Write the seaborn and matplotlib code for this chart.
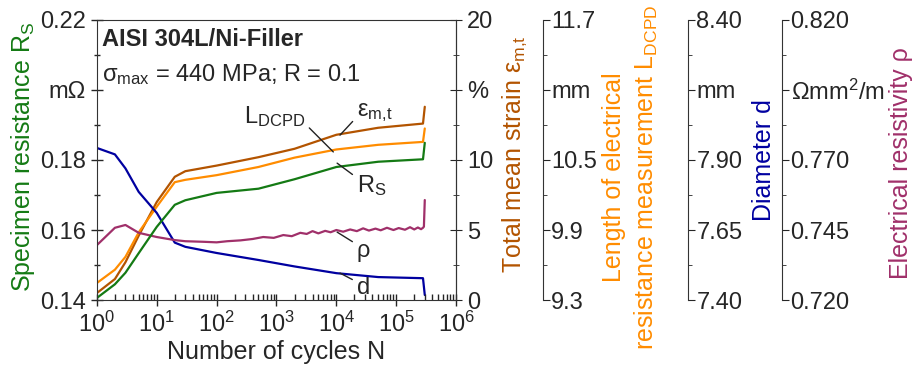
import matplotlib
matplotlib.use("Agg")
import matplotlib.pyplot as plt
import matplotlib.ticker as mticker
import seaborn as sns
import pandas as pd
import numpy as np

sns.set_style("ticks")
plt.rcParams['font.family'] = ['Liberation Sans', 'DejaVu Sans']
plt.rcParams['mathtext.default'] = 'regular'
plt.rcParams['font.size'] = 17

# cycles (shared by the smooth curves)
cycles = [1, 2, 3, 5, 10, 20, 30, 100, 500, 2000, 1e4, 5e4, 2.8e5, 3.0e5]
rs = [0.1406, 0.1445, 0.1478, 0.1534, 0.1609, 0.1672, 0.1685, 0.1706, 0.1718,
      0.1745, 0.1780, 0.1795, 0.1802, 0.1849]
strain = [0.5, 1.5, 2.7, 4.6, 7.0, 8.8, 9.2, 9.6, 10.2, 10.8, 11.8, 12.3, 12.6, 13.8]
l_dcpd = [9.446, 9.56, 9.67, 9.88, 10.10, 10.31, 10.33, 10.37, 10.44, 10.52,
          10.59, 10.63, 10.655, 10.77]
diam = [7.943, 7.92, 7.87, 7.786, 7.711, 7.605, 7.59, 7.568, 7.543, 7.52,
        7.496, 7.482, 7.478, 7.418]

# resistivity is noisy, so it gets its own hand-read points
rho_cycles = [1, 2, 3, 5, 10, 20, 30, 60, 100, 150, 250, 400, 600, 900, 1300,
              1800, 2500, 3200, 4000, 5000, 6500, 8000, 1e4, 1.3e4, 1.7e4, 2.2e4,
              2.8e4, 3.5e4, 4.5e4, 5.5e4, 7e4, 9e4, 1.1e5, 1.4e5, 1.7e5, 2e5,
              2.3e5, 2.6e5, 2.8e5, 2.9e5, 3.0e5]
rho = [0.7396, 0.7458, 0.7468, 0.7440, 0.7425, 0.7414, 0.7410, 0.7408, 0.7406,
       0.7410, 0.7413, 0.7418, 0.7425, 0.7422, 0.7432, 0.7428, 0.7440, 0.7436,
       0.7446, 0.7438, 0.7447, 0.7442, 0.7450, 0.7444, 0.7452, 0.7446, 0.7456,
       0.7448, 0.7455, 0.7449, 0.7458, 0.7450, 0.7457, 0.7451, 0.7460, 0.7452,
       0.7459, 0.7453, 0.7458, 0.7462, 0.7557]

rs_ticks = [0.14, 0.16, 0.18, 0.20, 0.22]
rs_labels = ['0.14', '0.16', '0.18', 'm\u03a9', '0.22']
strain_ticks = [0, 5, 10, 15, 20]
strain_labels = ['0', '5', '10', '%', '20']
l_ticks = [9.3, 9.9, 10.5, 11.1, 11.7]
l_labels = ['9.3', '9.9', '10.5', 'mm', '11.7']
d_ticks = [7.40, 7.65, 7.90, 8.15, 8.40]
d_labels = ['7.40', '7.65', '7.90', 'mm', '8.40']
rho_ticks = [0.720, 0.745, 0.770, 0.795, 0.820]
rho_labels = ['0.720', '0.745', '0.770', '\u03a9mm$^2$/m', '0.820']

c_rs = '#147a14'
c_eps = '#b35400'
c_l = '#ff8c00'
c_d = '#0000a0'
c_rho = '#a0306a'

df = pd.DataFrame({'N': cycles, 'Rs': rs, 'strain': strain, 'L': l_dcpd, 'd': diam})
df_rho = pd.DataFrame({'N': rho_cycles, 'rho': rho})

fig = plt.figure(figsize=(9.14, 3.76), dpi=100)
ax = fig.add_axes([0.106, 0.202, 0.393, 0.745])
ax2 = ax.twinx()
ax3 = ax.twinx()
ax4 = ax.twinx()
ax5 = ax.twinx()

lw = 1.6
sns.lineplot(data=df_rho, x='N', y='rho', ax=ax5, color=c_rho, lw=lw)
sns.lineplot(data=df, x='N', y='d', ax=ax4, color=c_d, lw=lw)
sns.lineplot(data=df, x='N', y='L', ax=ax3, color=c_l, lw=lw)
sns.lineplot(data=df, x='N', y='strain', ax=ax2, color=c_eps, lw=lw)
sns.lineplot(data=df, x='N', y='Rs', ax=ax, color=c_rs, lw=lw)
ax.set_zorder(5)
ax.patch.set_visible(False)

ax.set_xscale('log')
ax.set_xlim(1, 1e6)
ax.xaxis.set_major_locator(mticker.LogLocator(base=10, numticks=10))
ax.xaxis.set_minor_locator(mticker.LogLocator(base=10, subs=np.arange(2, 10), numticks=20))
ax.set_xlabel('Number of cycles N', fontsize=18, labelpad=2)

axes_info = [
    (ax, rs_ticks, rs_labels, 'Specimen resistance R$_S$', c_rs),
    (ax2, strain_ticks, strain_labels, 'Total mean strain \u03b5$_{m{,}t}$', c_eps),
    (ax3, l_ticks, l_labels, 'Length of electrical\nresistance measurement L$_{DCPD}$', c_l),
    (ax4, d_ticks, d_labels, 'Diameter d', c_d),
    (ax5, rho_ticks, rho_labels, 'Electrical resistivity \u03c1', c_rho),
]
for a, ticks, labels, title, col in axes_info:
    a.set_ylim(ticks[0], ticks[-1])
    a.yaxis.set_major_locator(mticker.FixedLocator(ticks))
    a.yaxis.set_major_formatter(mticker.FixedFormatter(labels))
    a.yaxis.set_minor_locator(mticker.AutoMinorLocator(2))
    a.set_ylabel(title, color=col, fontsize=18, linespacing=1.35)

ax.tick_params(axis='both', which='major', direction='inout', length=9, width=1, labelsize=17)
ax.tick_params(axis='y', which='minor', direction='inout', length=5, width=1)
ax.tick_params(axis='x', which='minor', direction='in', length=4, width=1)
ax.tick_params(axis='x', which='major', pad=4)
ax2.tick_params(axis='y', which='major', direction='inout', length=9, labelsize=17)
ax2.tick_params(axis='y', which='minor', direction='inout', length=5)
for a in (ax3, ax4, ax5):
    a.tick_params(axis='y', which='major', direction='out', length=5, labelsize=17, pad=1)
    a.tick_params(axis='y', which='minor', direction='out', length=3)
    for s in ('left', 'top', 'bottom'):
        a.spines[s].set_visible(False)
for s in ('left', 'top', 'bottom'):
    ax2.spines[s].set_visible(False)
for a in (ax, ax2, ax3, ax4, ax5):
    for s in a.spines.values():
        s.set_color('#333333')

ax3.spines['right'].set_position(('axes', 1.242))
ax4.spines['right'].set_position(('axes', 1.646))
ax5.spines['right'].set_position(('axes', 1.908))

ax.yaxis.set_label_coords(-0.168, 0.51)
ax2.yaxis.set_label_coords(1.123, 0.52)
ax3.yaxis.set_label_coords(1.405, 0.44)
ax4.yaxis.set_label_coords(1.825, 0.5)
ax5.yaxis.set_label_coords(2.205, 0.49)

ax.text(0.013, 0.97, 'AISI 304L/Ni-Filler', transform=ax.transAxes, fontsize=17,
        fontweight='bold', va='top', ha='left')
ax.text(0.013, 0.85, '\u03c3$_{max}$ = 440 MPa; R = 0.1', transform=ax.transAxes,
        fontsize=17, va='top', ha='left')

# curve labels with leader lines
lead = dict(arrowstyle='-', color='#222222', lw=1, shrinkA=1, shrinkB=0)
ax.annotate('L$_{DCPD}$', xy=(8900, 0.1823), xytext=(3000, 0.1925), ha='right', va='center',
            fontsize=17, arrowprops=dict(lead, relpos=(1, 0.2)))
ax.annotate('\u03b5$_{m{,}t}$', xy=(11500, 0.1871), xytext=(22000, 0.1936), ha='left', va='center',
            fontsize=17, arrowprops=dict(lead, relpos=(0, 0.3)))
ax.annotate('R$_S$', xy=(10300, 0.1791), xytext=(22000, 0.1728), ha='left', va='center',
            fontsize=17, arrowprops=dict(lead, relpos=(0, 0.8)))
ax.annotate('\u03c1', xy=(10300, 0.1594), xytext=(22000, 0.1540), ha='left', va='center',
            fontsize=17, arrowprops=dict(lead, relpos=(0, 0.8)))
ax.annotate('d', xy=(11500, 0.1477), xytext=(22000, 0.1433), ha='left', va='center',
            fontsize=17, arrowprops=dict(lead, relpos=(0, 0.8)))

fig.savefig('out.png', dpi=100)
